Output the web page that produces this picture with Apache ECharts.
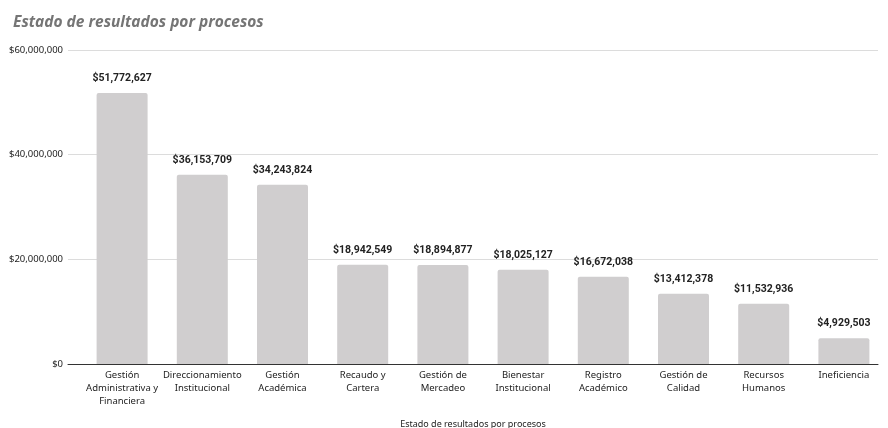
<!DOCTYPE html>
<html><head><meta charset="utf-8">
<script src="https://cdn.jsdelivr.net/npm/echarts@6/dist/echarts.min.js"></script>
<style>html,body{margin:0;padding:0;background:#fff}#c{width:888px;height:428px}</style>
</head><body><div id="c"></div>
<script>
const categories = ["Gestión\nAdministrativa y\nFinanciera","Direccionamiento\nInstitucional","Gestión\nAcadémica","Recaudo y\nCartera","Gestión de\nMercadeo","Bienestar\nInstitucional","Registro\nAcadémico","Gestión de\nCalidad","Recursos\nHumanos","Ineficiencia"];
const values = [51772627,36153709,34243824,18942549,18894877,18025127,16672038,13412378,11532936,4929503];
const yTicks = [0,20000000,40000000,60000000];
const fmt = v => '$' + v.toLocaleString('en-US');
const chart = echarts.init(document.getElementById('c'));
chart.setOption({
  animation:false,
  title:{text:'Estado de resultados por procesos',left:8,top:10,textStyle:{fontFamily:'Open Sans',fontStyle:'italic',fontWeight:'bold',fontSize:15.5,color:'#757575'}},
  grid:[{left:68,right:10,top:50,bottom:64,outerBoundsMode:'none',containLabel:false},{left:82,right:4,top:50,bottom:64,outerBoundsMode:'none',containLabel:false}],
  xAxis:[
    {type:'category',gridIndex:0,data:categories,axisLine:{lineStyle:{color:'#333',width:1}},axisTick:{show:false},axisLabel:{show:false},
     name:'Estado de resultados por procesos',nameLocation:'middle',nameGap:56,nameTextStyle:{fontFamily:'Noto Sans',fontSize:9,color:'#222'}},
    {type:'category',gridIndex:1,data:categories,axisLine:{show:false},axisTick:{show:false},
     axisLabel:{fontFamily:'Noto Sans',fontSize:9.5,color:'#222',lineHeight:13,margin:5,interval:0}}
  ],
  yAxis:[
    {type:'value',gridIndex:0,min:0,max:60000000,interval:20000000,axisLine:{show:false},axisTick:{show:false},
     splitLine:{lineStyle:{color:'#dcdcdc'}},axisLabel:{fontFamily:'Noto Sans',fontSize:9.5,color:'#222',margin:5,formatter:v=>fmt(v)}},
    {type:'value',gridIndex:1,min:0,max:60000000,interval:20000000,show:false,splitLine:{show:false}}
  ],
  series:[{type:'bar',xAxisIndex:1,yAxisIndex:1,data:values,barWidth:51,
    itemStyle:{color:'#d0cecf',borderRadius:[2,2,0,0]},
    label:{show:true,position:'top',distance:9,formatter:p=>fmt(p.value),fontFamily:'Roboto',fontWeight:'bold',fontSize:10.5,color:'#222'}}]
});
</script></body></html>
